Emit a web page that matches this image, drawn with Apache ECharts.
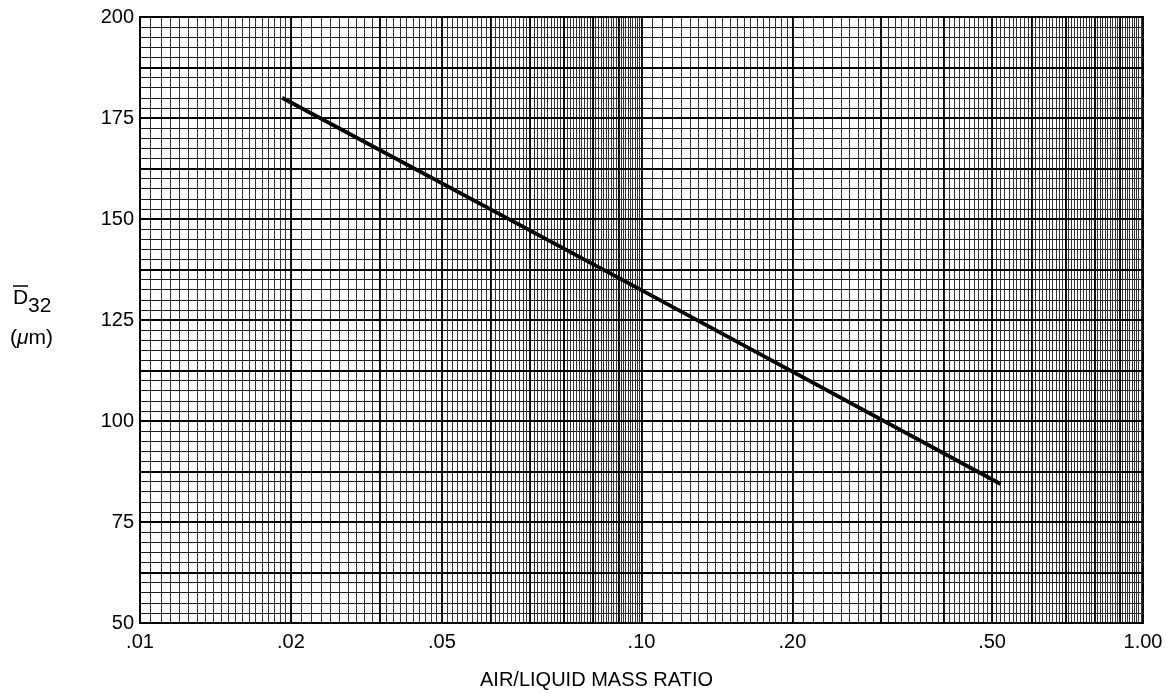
<!DOCTYPE html>
<html>
<head>
<meta charset="utf-8">
<script src="https://cdn.jsdelivr.net/npm/echarts@6/dist/echarts.min.js"></script>
<style>
html,body{margin:0;padding:0;background:#fff;}
#chart{width:1166px;height:693px;}
</style>
</head>
<body>
<div id="chart"></div>
<script>
// ---- data ----
const ratio = [0.0192, 0.10, 0.52];          // air/liquid mass ratio
const d32 = [180.0, 132.4, 84.4];            // D32 (µm)

// ---- axis labels ----
const xTickPositions = [0.01, 0.02, 0.04, 0.1, 0.2, 0.5, 1];
const xTickLabels = ['.01', '.02', '.05', '.10', '.20', '.50', '1.00'];
const yMin = 50, yMax = 200, yLabelStep = 25;

// ---- graph-paper rulings ----
const majorX = [0.01,0.02,0.03,0.04,0.05,0.06,0.07,0.08,0.09,0.1,0.2,0.3,0.4,0.5,0.6,0.7,0.8,0.9,1];
const minorSegments = [[0.01,0.02,0.0005],[0.02,0.1,0.001],[0.1,0.2,0.005],[0.2,1,0.01]];
const yMinorStep = 2.5, yMajorStep = 12.5;

const lg = v => Math.log10(v);
const minorX = [];
minorSegments.forEach(([a,b,s]) => {
  const n = Math.round((b-a)/s);
  for (let i=0;i<=n;i++) minorX.push(lg(a + i*s));
});
const majorXL = majorX.map(lg);
const labelXL = xTickPositions.map(lg);

const font = 'Liberation Sans, Arial, Helvetica, sans-serif';
const chart = echarts.init(document.getElementById('chart'), null, {renderer:'canvas'});

const hiddenValueX = (ticks, color, width, z) => ({
  type:'value', gridIndex:0, position:'bottom', min:-2, max:0, z:z,
  axisLine:{show:false}, axisLabel:{show:false},
  axisTick:{show:false, customValues:ticks},
  splitLine:{show:true, lineStyle:{color:color, width:width}}
});

chart.setOption({
  animation:false,
  backgroundColor:'#fff',
  grid:{left:140, right:23, top:17, bottom:70, containLabel:false,
        show:true, borderColor:'#000', borderWidth:2, backgroundColor:'transparent'},
  xAxis:[
    {type:'log', logBase:10, min:0.01, max:1, position:'bottom', show:false},
    hiddenValueX(minorX, '#333', 1, 0),
    {
      type:'value', position:'bottom', min:-2, max:0, z:1,
      axisLine:{show:true, lineStyle:{color:'#000', width:2}},
      axisTick:{show:false, customValues:majorXL},
      splitLine:{show:true, lineStyle:{color:'#000', width:1.8}},
      axisLabel:{
        show:true, customValues:labelXL, margin:9,
        color:'#000', fontSize:20, fontFamily:font,
        formatter:function(v){
          for (let i=0;i<labelXL.length;i++) if (Math.abs(labelXL[i]-v)<1e-6) return xTickLabels[i];
          return '';
        }
      }
    }
  ],
  yAxis:[
    {
      type:'value', position:'left', min:yMin, max:yMax, interval:yLabelStep, z:2,
      axisLine:{show:true, lineStyle:{color:'#000', width:2}},
      axisTick:{show:false},
      axisLabel:{color:'#000', fontSize:20, fontFamily:font, margin:6},
      splitLine:{show:true, lineStyle:{color:'#000', width:1.8}}
    },
    {
      type:'value', position:'left', min:yMin, max:yMax, interval:yMinorStep, z:0,
      axisLine:{show:false}, axisTick:{show:false}, axisLabel:{show:false},
      splitLine:{show:true, lineStyle:{color:'#1a1a1a', width:1}}
    },
    {
      type:'value', position:'left', min:yMin, max:yMax, interval:yMajorStep, z:1,
      axisLine:{show:false}, axisTick:{show:false}, axisLabel:{show:false},
      splitLine:{show:true, lineStyle:{color:'#000', width:1.8}}
    }
  ],
  series:[{
    type:'line', xAxisIndex:0, yAxisIndex:0, z:10,
    data: ratio.map((r,i)=>[r, d32[i]]),
    showSymbol:false, symbol:'none',
    lineStyle:{color:'#000', width:3.8, cap:'butt'}
  }],
  graphic:[
    {type:'text', left:480, top:670, style:{text:'AIR/LIQUID MASS RATIO', fill:'#000', font:'20px '+font}},
    {type:'text', x:13, y:298, style:{text:'D', fill:'#000', font:'21px '+font, textVerticalAlign:'middle'}},
    {type:'line', shape:{x1:13, y1:286, x2:28, y2:286}, style:{stroke:'#000', lineWidth:1.5}},
    {type:'text', x:28, y:306, style:{text:'32', fill:'#000', font:'21px '+font, textVerticalAlign:'middle'}},
    {type:'text', x:10, y:338, style:{
      text:'({i|μ}m)', fill:'#000', font:'21px '+font, textVerticalAlign:'middle',
      rich:{i:{fontStyle:'italic', fontSize:21, fontFamily:font, fill:'#000'}}
    }}
  ]
});
</script>
</body>
</html>
